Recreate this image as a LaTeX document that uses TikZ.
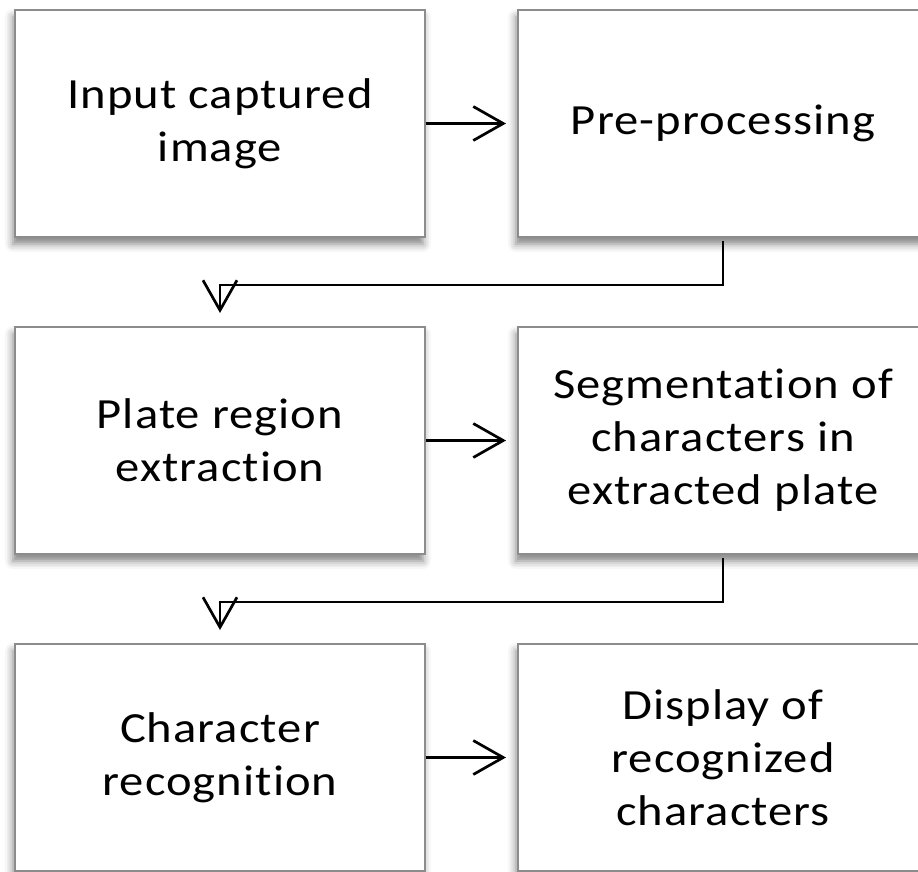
\documentclass[tikz,border=0pt]{standalone}
\usepackage{fontspec}
\setmainfont{Carlito}[Ligatures=NoCommon,FakeStretch=1.13,LetterSpace=2.5]
\usetikzlibrary{arrows.meta,calc,matrix,shadows.blur}
\definecolor{boxgray}{RGB}{140,140,140}
\tikzset{
  stepbox/.style={draw=boxgray,line width=2pt,fill=white,minimum width=410pt,minimum height=227pt,
    inner sep=0pt,align=center,font=\fontsize{43}{53}\selectfont,
    blur shadow={shadow xshift=-2pt,shadow yshift=-7pt,shadow blur radius=8pt,shadow opacity=50}},
  flow/.style={line width=2.7pt,-{Straight Barb[length=30pt,width=34pt]}}
}

\begin{document}
\begin{tikzpicture}
  \matrix (m) [row sep=88pt,column sep=91pt,ampersand replacement=\&]
  {
     \node[stepbox] (input) {Input captured\\image}; \& \node[stepbox] (prep) {Pre-processing}; \\
     \node[stepbox] (plate) {Plate region\\extraction}; \& \node[stepbox] (segm) {Segmentation of\\characters in\\extracted plate}; \\
     \node[stepbox] (recog) {Character\\recognition}; \& \node[stepbox] (disp) {Display of\\recognized\\characters}; \\};
  \path[flow,shorten >=11pt]
    (input) edge (prep)
    (plate) edge (segm)
    (recog) edge (disp);
  \draw[flow,shorten <=3pt,shorten >=13pt] (prep.south) -- ++(0,-47pt) -| (plate.north);
  \draw[flow,shorten <=3pt,shorten >=13pt] (segm.south) -- ++(0,-47pt) -| (recog.north);
  \pgfresetboundingbox
  \useasboundingbox ($(input.north west)+(-14pt,9pt)$) rectangle ++(918pt,-871pt);
\end{tikzpicture}
\end{document}
